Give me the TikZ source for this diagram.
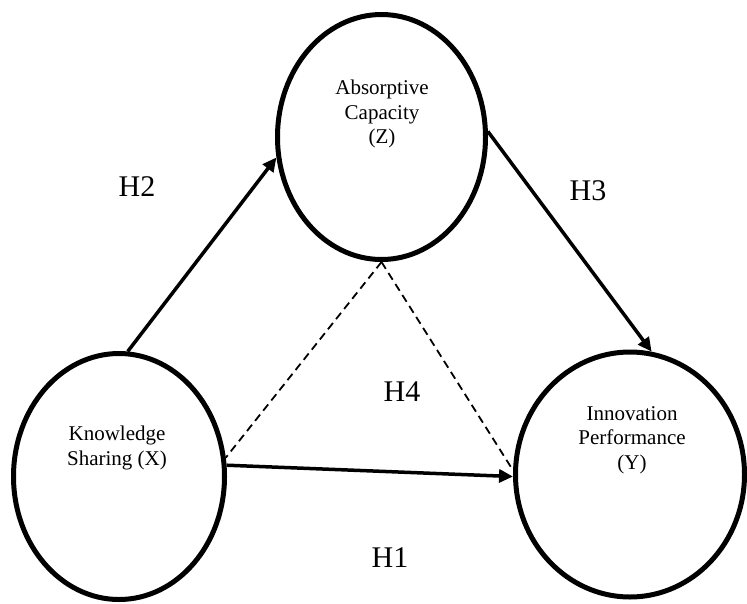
\documentclass[tikz,border=0pt]{standalone}
\usepackage{fontspec}
\setmainfont{Liberation Serif}
\usetikzlibrary{shapes.geometric,arrows.meta}

\begin{document}
\begin{tikzpicture}[x=1pt,y=-1pt,
    latent/.style={draw,ellipse,line width=5pt,inner sep=0pt},
    vname/.style={align=center,inner sep=0pt,font=\fontsize{21}{24.5}\selectfont},
    hname/.style={inner sep=0pt,font=\fontsize{30}{36}\selectfont},
    link/.style={line width=3.5pt,-{Triangle[length=14pt,width=13pt]}},
    med/.style={line width=1.8pt,dash pattern=on 8pt off 5pt}]
  \useasboundingbox (0,0) rectangle (747,603);
  \draw
    (381.5,137) node[latent,minimum width=208pt,minimum height=245pt] (z){}
    (119,476.5) node[latent,minimum width=211pt,minimum height=246pt] (x){}
    (630,474.5) node[latent,minimum width=229pt,minimum height=245pt] (y){};
  \node[vname] (zt) at (382,114) {Absorptive\\Capacity\\(Z)};
  \node[vname] (xt) at (117,448) {Knowledge\\Sharing (X)};
  \node[vname] (yt) at (632,440) {Innovation\\Performance\\(Y)};
  \node[hname] (h1) at (390,558) {H1};
  \node[hname] (h2) at (137,187) {H2};
  \node[hname] (h3) at (588,191) {H3};
  \node[hname] (h4) at (402,392) {H4};
  \begin{scope}[link]
    \draw (x.86) to (z.191);
    \draw (z.3) to (y.80);
    \draw (x.6) to (y.181);
  \end{scope}
  \begin{scope}[med]
    \draw (z.south) to (x.10);
    \draw (z.south) to (y.178);
  \end{scope}
\end{tikzpicture}
\end{document}
